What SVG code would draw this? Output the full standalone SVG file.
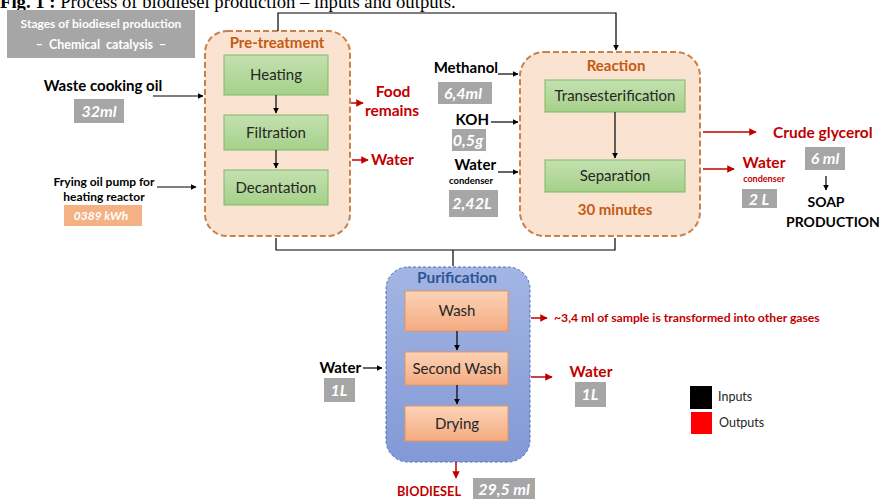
<svg xmlns="http://www.w3.org/2000/svg" width="881" height="499" viewBox="0 0 881 499">
<defs>
<linearGradient id="gGreen" x1="0" y1="0" x2="0" y2="1"><stop offset="0" stop-color="#c4e1b0"/><stop offset="1" stop-color="#a5d08a"/></linearGradient>
<linearGradient id="gPeach" x1="0" y1="0" x2="0" y2="1"><stop offset="0" stop-color="#fbd3b8"/><stop offset="1" stop-color="#f5ab80"/></linearGradient>
<linearGradient id="gBlue" x1="0" y1="0" x2="0" y2="1"><stop offset="0" stop-color="#a3b5e3"/><stop offset="1" stop-color="#8299d6"/></linearGradient>
<marker id="ab" viewBox="0 0 10 10" refX="9" refY="5" markerWidth="5" markerHeight="5" orient="auto"><path d="M0,0 L10,5 L0,10 z" fill="#000"/></marker>
<marker id="ar" viewBox="0 0 10 10" refX="9" refY="5" markerWidth="5" markerHeight="5" orient="auto"><path d="M0,0 L10,5 L0,10 z" fill="#c00000"/></marker>
<style>
text{font-family:Lato,"Open Sans","Liberation Sans",sans-serif}
.stage{fill:#fbe3d2;stroke:#c9804a;stroke-width:2;stroke-dasharray:6 3}
.pur{fill:url(#gBlue);stroke:#4f6fbf;stroke-width:1;stroke-dasharray:3 2}
.gbox{fill:url(#gGreen);stroke:#7fb963;stroke-width:1}
.pbox{fill:url(#gPeach);stroke:#e8945c;stroke-width:1}
.gray{fill:#a6a6a6}
.qty{fill:#fff;font-weight:bold;font-style:italic;font-size:16px;text-anchor:middle}
.ttl{fill:#c55a11;font-weight:bold;font-size:15px;text-anchor:middle}
.step{fill:#262626;font-size:15px;text-anchor:middle}
.in{fill:#000;font-weight:bold;font-size:15px}
.out{fill:#c00000;font-weight:bold;font-size:15.5px}
.k{stroke:#000;stroke-width:1.2;fill:none}
.ka{stroke:#000;stroke-width:1.2;fill:none;marker-end:url(#ab)}
.ra{stroke:#c00000;stroke-width:1.5;fill:none;marker-end:url(#ar)}
</style>
</defs>

<text x="0" y="8" style="font-family:'Liberation Serif',serif;font-size:18.7px"><tspan font-weight="bold">Fig. 1 :</tspan> Process of biodiesel production – inputs and outputs.</text>

<g id="header">
<rect x="7" y="10" width="188" height="48" class="gray"/>
<text x="101" y="28" style="fill:#fff;font-weight:bold;font-size:12px;text-anchor:middle">Stages of biodiesel production</text>
<text x="101" y="49" style="fill:#fff;font-weight:bold;font-size:12.5px;text-anchor:middle;word-spacing:3px">– Chemical  catalysis –</text>
</g>

<g id="pretreatment">
<rect x="205" y="31" width="145" height="205" rx="22" class="stage"/>
<text x="277" y="48" class="ttl">Pre-treatment</text>
</g>
<g id="heating"><rect x="224" y="55" width="104" height="40" class="gbox"/><text x="276" y="80" class="step">Heating</text></g>
<g id="filtration"><rect x="224" y="115" width="104" height="35" class="gbox"/><text x="276" y="138" class="step">Filtration</text></g>
<g id="decantation"><rect x="224" y="170" width="104" height="35" class="gbox"/><text x="276" y="193" class="step">Decantation</text></g>

<g id="reaction">
<rect x="520" y="52" width="180" height="184" rx="24" class="stage"/>
<text x="616" y="71" class="ttl">Reaction</text>
<text x="615" y="215" class="ttl">30 minutes</text>
</g>
<g id="transesterification"><rect x="545" y="80" width="140" height="32" class="gbox"/><text x="615" y="101" class="step">Transesterification</text></g>
<g id="separation"><rect x="545" y="160" width="140" height="32" class="gbox"/><text x="615" y="181" class="step">Separation</text></g>

<g id="purification">
<rect x="386" y="267" width="144" height="195" rx="22" class="pur"/>
<text x="457" y="283" style="fill:#2f5597;font-weight:bold;font-size:15.5px;text-anchor:middle">Purification</text>
</g>
<g id="wash"><rect x="405" y="291" width="103" height="40" class="pbox"/><text x="457" y="316" class="step">Wash</text></g>
<g id="secondwash"><rect x="405" y="352" width="103" height="33" class="pbox"/><text x="457" y="374" class="step">Second Wash</text></g>
<g id="drying"><rect x="405" y="406" width="103" height="35" class="pbox"/><text x="457" y="429" class="step">Drying</text></g>

<g id="wasteoil">
<text x="103" y="91" class="in" text-anchor="middle">Waste cooking oil</text>
<rect x="74" y="99" width="50" height="24" class="gray"/><text x="99" y="117" class="qty">32ml</text>
</g>
<g id="pump">
<text x="104" y="186" class="in" text-anchor="middle" style="font-size:12px">Frying oil pump for</text>
<text x="104" y="201" class="in" text-anchor="middle" style="font-size:12px">heating reactor</text>
<rect x="64" y="205" width="78" height="21" style="fill:#f4b183"/><text x="101" y="220" class="qty" style="font-size:12px">0389 kWh</text>
</g>
<g id="foodremains">
<text x="393" y="97" class="out" text-anchor="middle">Food</text>
<text x="392" y="116" class="out" text-anchor="middle">remains</text>
</g>
<g id="water-pre"><text x="371" y="165" class="out">Water</text></g>

<g id="methanol">
<text x="498" y="73" class="in" text-anchor="end">Methanol</text>
<rect x="438" y="82" width="54" height="22" class="gray"/><text x="463" y="99" class="qty">6,4ml</text>
</g>
<g id="koh">
<text x="489" y="125" class="in" text-anchor="end">KOH</text>
<rect x="452" y="129" width="34" height="22" class="gray"/><text x="468" y="146" class="qty">0,5g</text>
</g>
<g id="water-cond-in">
<text x="496" y="170" class="in" text-anchor="end">Water</text>
<text x="471" y="184" class="in" text-anchor="middle" style="font-size:9.5px">condenser</text>
<rect x="449" y="190" width="49" height="27" class="gray"/><text x="472" y="209" class="qty">2,42L</text>
</g>

<g id="glycerol">
<text x="773" y="138" class="out">Crude glycerol</text>
<rect x="805" y="147" width="40" height="23" class="gray"/><text x="825" y="164" class="qty">6 ml</text>
</g>
<g id="soap">
<text x="826" y="207" class="in" text-anchor="middle" style="font-size:14px">SOAP</text>
<text x="833" y="227" class="in" text-anchor="middle" style="font-size:14px">PRODUCTION</text>
</g>
<g id="water-cond-out">
<text x="764" y="168" class="out" text-anchor="middle">Water</text>
<text x="764" y="182" class="out" text-anchor="middle" style="font-size:9px">condenser</text>
<rect x="742" y="189" width="35" height="19" class="gray"/><text x="759" y="205" class="qty">2 L</text>
</g>

<g id="water-in-pur">
<text x="361" y="373" class="in" text-anchor="end">Water</text>
<rect x="324" y="378" width="31" height="24" class="gray"/><text x="339" y="396" class="qty">1L</text>
</g>
<g id="gases"><text x="554" y="322" class="out" style="font-size:12.2px">~3,4 ml of sample is transformed into other gases</text></g>
<g id="water-out-pur">
<text x="591" y="377" class="out" text-anchor="middle">Water</text>
<rect x="575" y="382" width="31" height="25" class="gray"/><text x="590" y="400" class="qty">1L</text>
</g>
<g id="biodiesel">
<text x="429" y="496" class="out" text-anchor="middle" style="font-size:14px" textLength="64" lengthAdjust="spacingAndGlyphs">BIODIESEL</text>
<rect x="473" y="478" width="62" height="21" class="gray"/><text x="504" y="495" class="qty">29,5 ml</text>
</g>

<g id="legend">
<rect x="690" y="386" width="22" height="23" fill="#000"/>
<text x="718" y="401" style="font-size:12.5px;fill:#262626">Inputs</text>
<rect x="691" y="412" width="21" height="22" fill="#ff0000"/>
<text x="719" y="427" style="font-size:12.5px;fill:#262626">Outputs</text>
</g>

<g id="connectors">
<path d="M278,31 V13 H616 V50" class="ka"/>
<path d="M276,95 V113" class="ka"/>
<path d="M276,150 V168" class="ka"/>
<path d="M615,112 V158" class="ka"/>
<path d="M276,238 V250 H615 V238" class="k"/>
<path d="M453,250 V266" class="k"/>
<path d="M457,331 V350" class="ka"/>
<path d="M457,385 V404" class="ka"/>
<path d="M153,96 H203" class="ka"/>
<path d="M157,187 H196" class="ka"/>
<path d="M498,74 H518" class="ka"/>
<path d="M491,122 H518" class="ka"/>
<path d="M498,172 H518" class="ka"/>
<path d="M363,368 H382" class="ka"/>
<path d="M826,176 V190" class="ka"/>
<path d="M351,103 H363" class="ra"/>
<path d="M352,160 H368" class="ra"/>
<path d="M703,132 H756" class="ra"/>
<path d="M703,169 H734" class="ra"/>
<path d="M531,318 H547" class="ra"/>
<path d="M531,377 H552" class="ra"/>
<path d="M456,462 V478" class="ra"/>
</g>
</svg>
